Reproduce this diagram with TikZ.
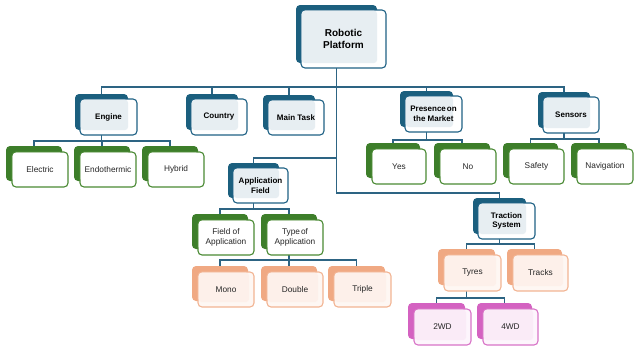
\documentclass[tikz,border=0pt]{standalone}
\usepackage{fontspec}
\setmainfont{Liberation Sans}
\definecolor{bdark}{HTML}{1B5F7E}
\definecolor{bline}{HTML}{1F6285}
\definecolor{bin}{HTML}{E7EEF2}
\definecolor{gdark}{HTML}{3D7E2A}
\definecolor{gline}{HTML}{4A8A34}
\definecolor{sdark}{HTML}{F0A983}
\definecolor{sline}{HTML}{F2B493}
\definecolor{sfill}{HTML}{FEF7F3}
\definecolor{sin}{HTML}{FDF0EA}
\definecolor{pdark}{HTML}{D462C1}
\definecolor{pline}{HTML}{D873C7}
\definecolor{pfill}{HTML}{FDF5FC}
\definecolor{pin}{HTML}{FAEBF7}
\definecolor{conncol}{HTML}{2D6483}
\tikzset{
  card/.style={rectangle, rounded corners=4pt, inner sep=0pt, outer sep=0pt, line width=1.1pt},
  blue back/.style={card, fill=bdark},
  blue front/.style={card, draw=bline, fill=white},
  blue inner/.style={fill=bin},
  green back/.style={card, fill=gdark},
  green front/.style={card, draw=gline, fill=white},
  green inner/.style={fill=white},
  salmon back/.style={card, fill=sdark},
  salmon front/.style={card, draw=sline, fill=sfill},
  salmon inner/.style={fill=sin},
  pink back/.style={card, fill=pdark},
  pink front/.style={card, draw=pline, fill=pfill},
  pink inner/.style={fill=pin},
  conn/.style={draw=conncol, line width=1.1pt},
  boldtxt/.style={align=center, font=\bfseries\fontsize{8}{9.5}\selectfont, text=black, inner sep=0pt},
  roottxt/.style={align=center, font=\bfseries\fontsize{10}{11.5}\selectfont, text=black, inner sep=0pt},
  plaintxt/.style={align=center, font=\fontsize{8.3}{9.5}\selectfont, text=black!85, inner sep=0pt},
}
% blue card: name, L, T, R, B, text style, text
\newcommand\bcard[7]{%
  \node[blue back, minimum width={#4-#2-4}, minimum height={#5-#3}, anchor=north west] (#1-b) at (#2-5,#3-5) {};
  \node[blue front, minimum width={#4-#2}, minimum height={#5-#3}, anchor=north west] (#1) at (#2,#3) {};
  \fill[blue inner, rounded corners=3pt] (#2+0.7,#3+0.7) rectangle (#4-9,#5-5);
  \node[#6] (#1-t) at (#1.center) {#7};
}
% other cards: family, name, L, T, R, B, text
\newcommand\ocard[7]{%
  \node[#1 back, minimum width={#5-#3}, minimum height={#6-#4}, anchor=north west] (#2-b) at (#3-6,#4-6) {};
  \node[#1 front, minimum width={#5-#3}, minimum height={#6-#4}, anchor=north west] (#2) at (#3,#4) {};
  \fill[#1 inner, rounded corners=3pt] (#3+0.7,#4+0.7) rectangle (#5-5,#6-5);
  \node[plaintxt] (#2-t) at (#2.center) {#7};
}
\begin{document}
\begin{tikzpicture}[x=1pt,y=-1pt]
\useasboundingbox (0,0) rectangle (638,349);
% bus levels
\coordinate (lv1) at (0,87);
\coordinate (lvapp) at (0,158);
\coordinate (lvtrac) at (0,193);
\coordinate (lveng) at (0,141);
\coordinate (lvpres) at (0,140);
\coordinate (lvsens) at (0,139);
\coordinate (lvappc) at (0,209);
\coordinate (lvtype) at (0,260);
\coordinate (lvtracc) at (0,244);
\coordinate (lvtyres) at (0,298);
% invisible placeholders are not needed; cards drawn after connectors
\begin{scope}[on background layer/.style={}]
\end{scope}
% cards first defined (to get anchors), connectors drawn on a lower layer
\pgfdeclarelayer{conns}
\pgfsetlayers{conns,main}
\bcard{root}{301}{10}{386}{68}{roottxt}{Robotic\\Platform}
\bcard{engine}{80}{99}{137}{135}{boldtxt}{Engine}
\bcard{country}{191}{99}{247}{135}{boldtxt}{Country}
\bcard{main}{268}{100}{324}{135}{boldtxt}{Main Task}
\bcard{pres}{405}{96}{462}{132}{boldtxt}{Presence\hspace{0.12em}on\\the Market}
\bcard{sens}{543}{97}{599}{133}{boldtxt}{Sensors}
\bcard{app}{233}{168}{288}{203}{boldtxt}{Application\\Field}
\bcard{trac}{478}{203}{535}{239}{boldtxt}{Traction\\System}
\ocard{green}{electric}{12}{152}{68}{187}{Electric}
\ocard{green}{endo}{80}{152}{136}{187}{Endothermic}
\ocard{green}{hybrid}{148}{152}{204}{187}{Hybrid}
\ocard{green}{yes}{372}{149}{426}{184}{Yes}
\ocard{green}{no}{440}{149}{496}{184}{No}
\ocard{green}{safety}{509}{149}{564}{184}{Safety}
\ocard{green}{nav}{577}{149}{633}{184}{Navigation}
\ocard{green}{field}{198}{220}{254}{255}{Field of\\Application}
\ocard{green}{type}{267}{220}{323}{255}{Type\hspace{0.12em}of\\Application}
\ocard{salmon}{mono}{198}{272}{254}{307}{Mono}
\ocard{salmon}{double}{267}{272}{323}{307}{Double}
\ocard{salmon}{triple}{334}{272}{391}{307}{Triple}
\ocard{salmon}{tyres}{444}{255}{501}{291}{Tyres}
\ocard{salmon}{tracks}{513}{255}{568}{291}{Tracks}
\ocard{pink}{twowd}{414}{309}{471}{345}{2WD}
\ocard{pink}{fourwd}{483}{309}{538}{345}{4WD}
\begin{pgfonlayer}{conns}
  % root level
  \draw[conn] (root-b.south|-root.south) -- (root-b.south|-lvtrac) -| (trac-b.north);
  \draw[conn] (engine-b.north) -- (engine-b.north|-lv1) -- (sens-b.north|-lv1) -- (sens-b.north);
  \draw[conn] (country-b.north) -- (country-b.north|-lv1);
  \draw[conn] (main-b.north) -- (main-b.north|-lv1);
  \draw[conn] (pres-b.north) -- (pres-b.north|-lv1);
  \draw[conn] (root-b.south|-lvapp) -| (app-b.north);
  % engine
  \draw[conn] (engine-b.south|-engine.south) -- (engine-b.south|-lveng);
  \draw[conn] (electric-b.north) -- (electric-b.north|-lveng) -- (hybrid-b.north|-lveng) -- (hybrid-b.north);
  \draw[conn] (endo-b.north) -- (endo-b.north|-lveng);
  % presence
  \draw[conn] (pres-b.south|-pres.south) -- (pres-b.south|-lvpres);
  \draw[conn] (yes-b.north) -- (yes-b.north|-lvpres) -- (no-b.north|-lvpres) -- (no-b.north);
  % sensors
  \draw[conn] (sens-b.south|-sens.south) -- (sens-b.south|-lvsens);
  \draw[conn] (safety-b.north) -- (safety-b.north|-lvsens) -- (nav-b.north|-lvsens) -- (nav-b.north);
  % application field
  \draw[conn] (app-b.south|-app.south) -- (app-b.south|-lvappc);
  \draw[conn] (field-b.north) -- (field-b.north|-lvappc) -- (type-b.north|-lvappc) -- (type-b.north);
  % type of application
  \draw[conn] (type-b.south|-type.south) -- (type-b.south|-lvtype);
  \draw[conn] (mono-b.north) -- (mono-b.north|-lvtype) -- (triple-b.north|-lvtype) -- (triple-b.north);
  \draw[conn] (double-b.north) -- (double-b.north|-lvtype);
  % traction
  \draw[conn] (trac-b.south|-trac.south) -- (trac-b.south|-lvtracc);
  \draw[conn] (tyres-b.north) -- (tyres-b.north|-lvtracc) -- (tracks-b.north|-lvtracc) -- (tracks-b.north);
  % tyres
  \draw[conn] (tyres-b.south|-tyres.south) -- (tyres-b.south|-lvtyres);
  \draw[conn] (twowd-b.north) -- (twowd-b.north|-lvtyres) -- (fourwd-b.north|-lvtyres) -- (fourwd-b.north);
\end{pgfonlayer}
\end{tikzpicture}
\end{document}
